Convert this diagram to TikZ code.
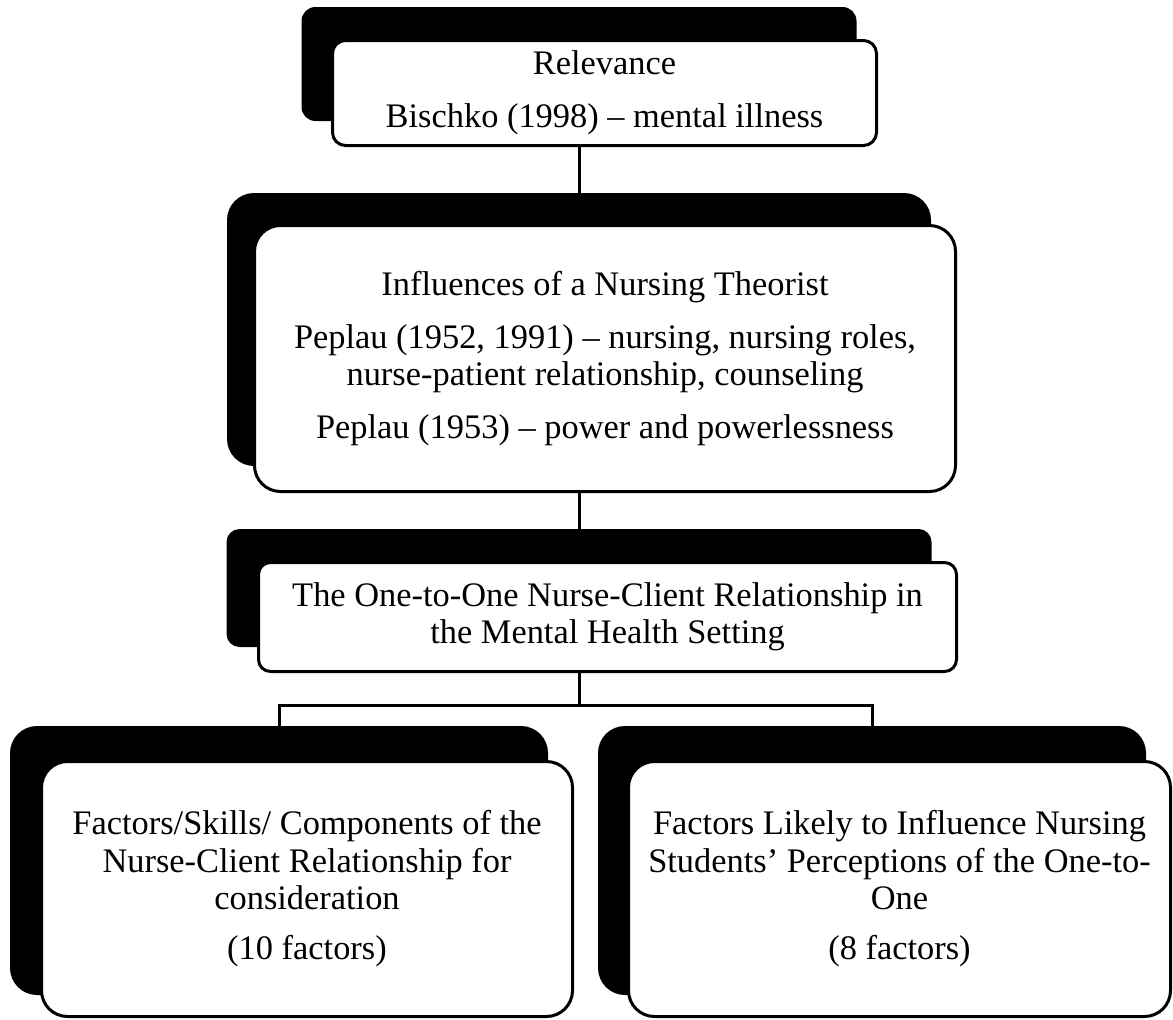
\documentclass[tikz,border=0pt]{standalone}
\usepackage{fontspec}
\setmainfont{Liberation Serif}
\usetikzlibrary{backgrounds}
\begin{document}
\begin{tikzpicture}[x=1pt,y=-1pt,
  shadowbox/.style={fill=black,draw=none,inner sep=0pt,outer sep=0pt},
  whitebox/.style={fill=white,draw=black,line width=3pt,inner sep=0pt,outer sep=0pt,align=center,
    font=\fontsize{34.4}{37.5}\selectfont},
  link/.style={draw=black,line width=3pt}]
\useasboundingbox (0,0) rectangle (1173,1020);
% box 1
\node[shadowbox,rounded corners=14pt,minimum width=555pt,minimum height=114pt] (sh1) at (579,64) {};
\node[whitebox,rounded corners=13pt,minimum width=544pt,minimum height=105pt] (b1) at (604.5,93)
  {Relevance\\[15.5pt]Bischko (1998) – mental illness};
% box 2
\node[shadowbox,rounded corners=27pt,minimum width=704pt,minimum height=273pt] (sh2) at (579,329.5) {};
\node[whitebox,rounded corners=26pt,minimum width=701pt,minimum height=266pt] (b2) at (605,358.5)
  {Influences of a Nursing Theorist\\[15.5pt]Peplau (1952, 1991) – nursing, nursing roles,\\nurse-patient relationship, counseling\\[15.5pt]Peplau (1953) – power and powerlessness};
% box 3
\node[shadowbox,rounded corners=13pt,minimum width=705pt,minimum height=118pt] (sh3) at (579,588) {};
\node[whitebox,rounded corners=12pt,minimum width=698pt,minimum height=109pt] (b3) at (607.5,617)
  {The One-to-One Nurse-Client Relationship in\\the Mental Health Setting};
% left box
\node[shadowbox,rounded corners=27pt,minimum width=538pt,minimum height=269pt] (shL) at (279,860.5) {};
\node[whitebox,rounded corners=26pt,minimum width=531pt,minimum height=255pt] (bL) at (307,889)
  {Factors/Skills/ Components of the\\Nurse-Client Relationship for\\consideration\\[12.5pt](10 factors)};
% right box
\node[shadowbox,rounded corners=27pt,minimum width=548pt,minimum height=269pt] (shR) at (872,860.5) {};
\node[whitebox,rounded corners=26pt,minimum width=542pt,minimum height=255pt] (bR) at (899.5,889)
  {Factors Likely to Influence Nursing\\Students’ Perceptions of the One-to-\\One\\[12.5pt](8 factors)};
\coordinate (bar) at (579,705);
\begin{scope}[on background layer]
\draw[link] (sh1.south) -- (sh2.north);
\draw[link] (sh2.south) -- (sh3.north);
\draw[link] (sh3.south) -- (bar);
\draw[link] (bar) -| (shL.north);
\draw[link] (bar) -| (shR.north);
\end{scope}
\end{tikzpicture}
\end{document}
